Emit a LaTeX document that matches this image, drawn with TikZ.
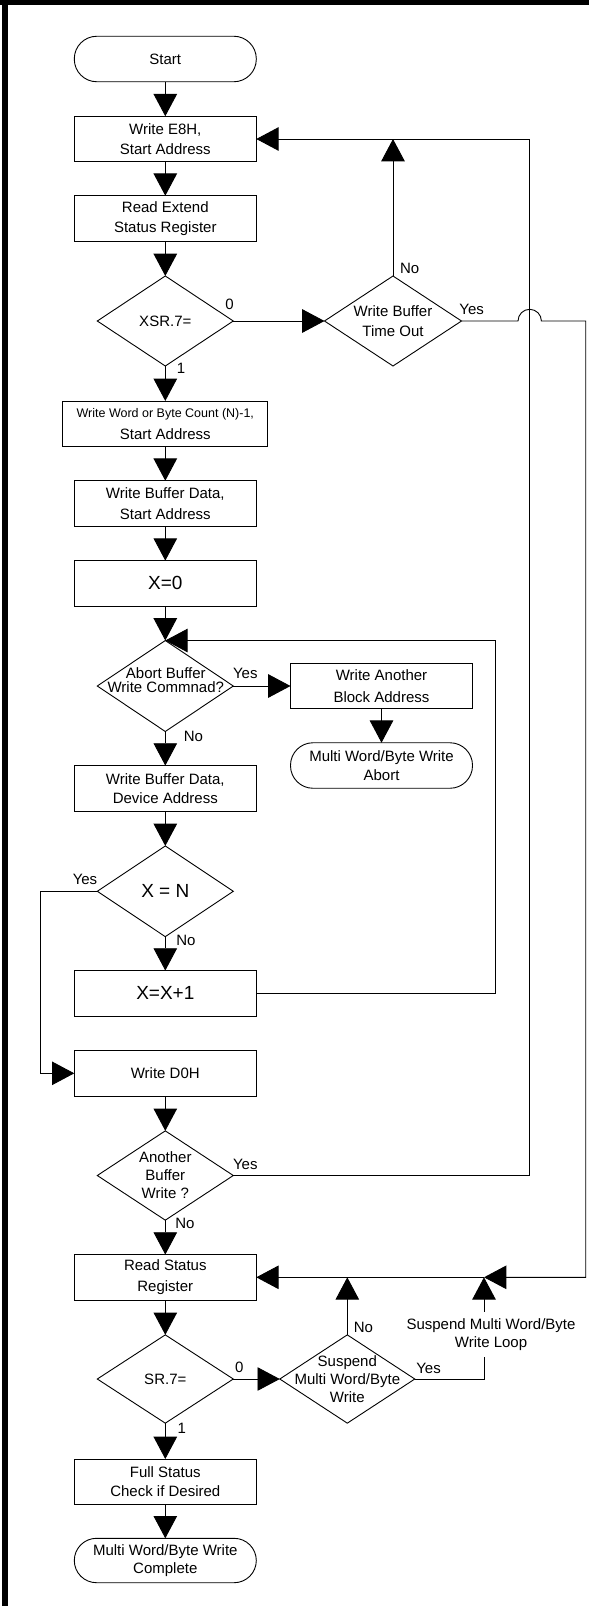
\documentclass[tikz,border=0pt]{standalone}
\usepackage{fontspec}
\setmainfont{Liberation Sans}
\usetikzlibrary{arrows.meta,shapes.geometric}
\begin{document}
\begin{tikzpicture}[x=1pt,y=1pt,line width=0.9pt,
  txt/.style={font=\fontsize{15}{19.5}\selectfont,align=center,inner sep=0pt},
  box/.style={txt,draw,rectangle,minimum width=182pt,minimum height=45.5pt,outer sep=0pt},
  term/.style={box,rounded corners=22.5pt},
  dia/.style={draw,diamond,minimum width=136pt,minimum height=90pt,inner sep=0pt,outer sep=0pt},
  lab/.style={font=\fontsize{15}{18}\selectfont,inner sep=0pt,align=center},
  arr/.style={-{Triangle[length=22.3pt,width=23.5pt]}},
  wide/.style={font=\fontsize{15}{21.7}\selectfont},
  big/.style={font=\fontsize{19}{22}\selectfont}]

\useasboundingbox (0,0) rectangle (589,-1606);
\fill[white] (0,0) rectangle (589,-1606);
\fill[black] (0,0) rectangle (589,-5);
\fill[black] (1.5,0) rectangle (7.5,-1606);

% main column
\node[term] (start) at (165.3,-59) {Start};
\node[box] (e8h) at (165.3,-139) {Write E8H,\\Start Address};
\node[box,font=\fontsize{15}{20}\selectfont] (rxsr) at (165.3,-218.5) {Read Extend\\Status Register};
\node[dia] (xsr) at (165.3,-321) {};
\node[txt] (xsrt) at (xsr) {XSR.7=};
\node[dia,minimum width=137pt] (wbto) at (393,-321) {};
\node[txt,font=\fontsize{15}{20.7}\selectfont] (wbtot) at (393,-321) {Write Buffer\\Time Out};
\node[box,wide,minimum width=205pt] (wwc) at (165.3,-423.7) {{\fontsize{12.5}{15}\selectfont Write Word or Byte Count (N)-1,}\\Start Address};
\node[box,wide] (wbd1) at (165.3,-503.5) {Write Buffer Data,\\Start Address};
\node[box,big] (x0) at (165.3,-583.4) {X=0};
\node[dia,minimum height=91pt] (abort) at (165.3,-686) {};
\node[txt,font=\fontsize{15}{14}\selectfont] (abortt) at (165.8,-680.5) {Abort Buffer\\Write Commnad?};
\node[box,wide] (wab) at (381.5,-686) {Write Another\\Block Address};
\node[term,font=\fontsize{15}{18.3}\selectfont] (abt) at (381.5,-765.5) {Multi Word/Byte Write\\Abort};
\node[box,font=\fontsize{15}{19}\selectfont] (wbd2) at (165.3,-788.3) {Write Buffer Data,\\Device Address};
\node[dia,minimum height=90.7pt] (xn) at (165.3,-891.3) {};
\node[txt,big] (xnt) at (xn) {X = N};
\node[box,big] (xinc) at (165.3,-993.3) {X=X+1};
\node[box] (d0h) at (165.3,-1073.3) {Write D0H};
\node[dia,minimum height=89.3pt] (another) at (165.3,-1175.5) {};
\node[txt,font=\fontsize{15}{18}\selectfont] (anothert) at (another) {Another\\Buffer\\Write ?};
\node[box,font=\fontsize{15}{21}\selectfont] (rsr) at (165.3,-1277.3) {Read Status\\Register};
\node[dia,minimum height=88.3pt] (sr7) at (165.3,-1379) {};
\node[txt] (sr7t) at (sr7) {SR.7=};
\node[dia,minimum width=135pt,minimum height=88.3pt] (susp) at (347.3,-1379) {};
\node[txt,font=\fontsize{15}{18.3}\selectfont] (suspt) at (susp) {Suspend\\Multi Word/Byte\\Write};
\node[box,font=\fontsize{15}{19}\selectfont,minimum height=45pt] (full) at (165.3,-1481.5) {Full Status\\Check if Desired};
\node[term,font=\fontsize{15}{18.3}\selectfont,minimum height=44.4pt,rounded corners=22.2pt] (done) at (165.3,-1560.5) {Multi Word/Byte Write\\Complete};

\coordinate (j1) at (484,-1277.3);

% connectors
\draw[arr] (start) -- (e8h);
\draw[arr] (e8h) -- (rxsr);
\draw[arr] (rxsr) -- (xsr.north);
\draw[arr] (xsr.east) -- (wbto.west);
\draw[arr] (wbto.north) -- (wbto.north |- e8h.east);
\draw[arr] (wbto.east) -- (518,-321) arc[start angle=180,end angle=0,radius=11.7pt] -- (585.7,-321) -- (585.7,-1277.3) -- (j1);
\draw[arr] (j1) -- (rsr.east);
\draw[arr] (xsr.south) -- (wwc.north);
\draw[arr] (wwc) -- (wbd1);
\draw[arr] (wbd1) -- (x0);
\draw[arr] (x0) -- (abort.north);
\draw[arr] (abort.east) -- (wab.west);
\draw[arr] (wab) -- (abt);
\draw[arr] (abort.south) -- (wbd2.north);
\draw[arr] (wbd2) -- (xn.north);
\draw[arr] (xn.south) -- (xinc.north);
\draw[arr] (xn.west) -- (40.2,-891.3) |- (d0h.west);
\draw[arr] (xinc.east) -- (495,-993.3) |- (abort.north);
\draw[arr] (d0h) -- (another.north);
\draw[arr] (another.south) -- (rsr.north);
\draw[arr] (another.east) -- (529.7,-1175.5) |- (e8h.east);
\draw[arr] (rsr) -- (sr7.north);
\draw[arr] (sr7.east) -- (susp.west);
\draw[arr] (susp.north) -- (susp.north |- rsr.east);
\draw[arr] (susp.east) -- (484,-1379) -- (j1);
\draw[arr] (sr7.south) -- (full.north);
\draw[arr] (full) -- (done);

% loop label on the line
\node[lab,fill=white,inner xsep=1pt,inner ysep=6.5pt] (sl) at (491,-1334.5) {Suspend Multi Word/Byte\\Write Loop};

% branch labels
\node[lab] (l1) at (229.5,-304.5) {0};
\node[lab] (l2) at (409.6,-268.7) {No};
\node[lab] (l3) at (471.6,-309) {Yes};
\node[lab] (l4) at (181,-368) {1};
\node[lab] (l5) at (245.3,-673) {Yes};
\node[lab] (l6) at (193.5,-736) {No};
\node[lab] (l7) at (85,-879) {Yes};
\node[lab] (l8) at (186,-940.5) {No};
\node[lab] (l9) at (245.3,-1164) {Yes};
\node[lab] (l10) at (185,-1223) {No};
\node[lab] (l11) at (239.3,-1367.3) {0};
\node[lab] (l12) at (363.4,-1327.8) {No};
\node[lab] (l13) at (428.5,-1368) {Yes};
\node[lab] (l14) at (181.8,-1428) {1};
\end{tikzpicture}
\end{document}
